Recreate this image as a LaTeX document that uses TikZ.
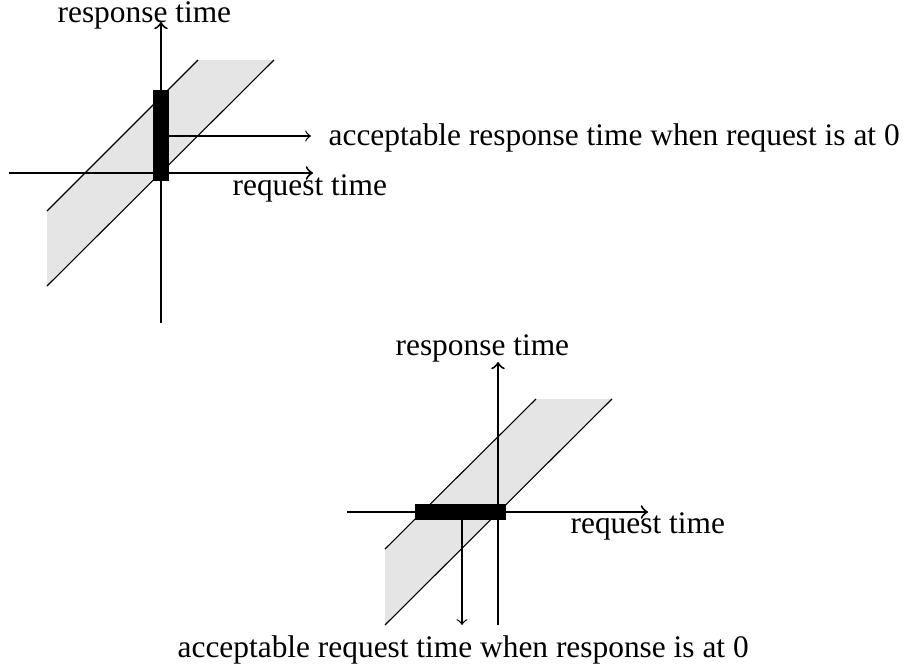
\documentclass[tikz,border=0pt]{standalone}
\usepackage{fontspec}
\setmainfont{Liberation Serif}
\begin{document}
\begin{tikzpicture}[x=0.3185pt,y=-0.3185pt,
  axis/.style={line width=0.65pt,->},
  bandfill/.style={fill=black!10},
  bandedge/.style={line width=0.35pt},
  bar/.style={fill=black, draw=none, inner sep=0pt},
  pointer/.style={line width=0.4pt,->},
  lbl/.style={inner sep=0pt, anchor=base west, font=\fontsize{10}{12}\selectfont}]
\useasboundingbox (0,0) rectangle (907,672);

% ---------- upper plot: interval on the response axis ----------
\fill[bandfill] (47,211) -- (198,60) -- (274,60) -- (47,286) -- cycle;
\draw[bandedge] (47,211) -- (198,60);
\draw[bandedge] (47,286) -- (274,60);

\coordinate (xa0) at (9,173);
\coordinate (xa1) at (313,173);
\coordinate (ya0) at (161,323);
\coordinate (ya1) at (161,22);
\draw[axis] (xa0) -- (xa1);
\draw[axis] (ya0) -- (ya1);

\node[bar, minimum width=16*0.3185pt, minimum height=91*0.3185pt] (barA) at (161,135.5) {};

\node[lbl] (ylabA) at (57,23) {response time};
\node[lbl] (xlabA) at (232,195) {request time};
\node[lbl] (noteA) at (328,145) {acceptable response time when request is at 0};

\coordinate (pA0) at (169,136);
\coordinate (pA1) at (311,136);
\draw[pointer] (pA0) -- (pA1);

% ---------- lower plot: interval on the request axis ----------
\fill[bandfill] (385,549) -- (536,399) -- (612,399) -- (385,625) -- cycle;
\draw[bandedge] (385,549) -- (536,399);
\draw[bandedge] (385,625) -- (612,399);

\coordinate (xb0) at (347,512);
\coordinate (xb1) at (648,512);
\coordinate (yb0) at (498,625);
\coordinate (yb1) at (498,362);
\draw[axis] (xb0) -- (xb1);
\draw[axis] (yb0) -- (yb1);

\node[bar, minimum width=91*0.3185pt, minimum height=16*0.3185pt] (barB) at (460.5,512) {};

\node[lbl] (ylabB) at (395,355) {response time};
\node[lbl] (xlabB) at (570,533) {request time};
\node[lbl] (noteB) at (177,657) {acceptable request time when response is at 0};

\coordinate (pB0) at (462,520);
\coordinate (pB1) at (462,625);
\draw[pointer] (pB0) -- (pB1);
\end{tikzpicture}
\end{document}
